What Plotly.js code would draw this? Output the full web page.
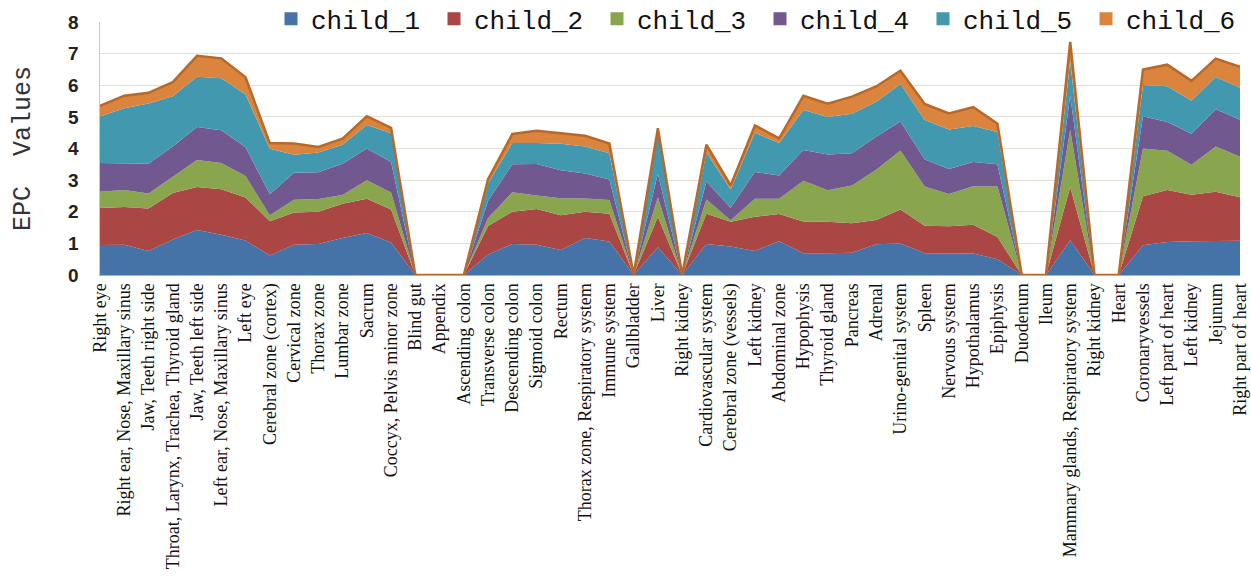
<!DOCTYPE html>
<html>
<head>
<meta charset="utf-8">
<script src="https://cdn.plot.ly/plotly-3.0.1.min.js"></script>
<style>html,body{margin:0;padding:0;background:#fff;}#chart{width:1251px;height:585px;}</style>
</head>
<body>
<div id="chart"></div>
<script>
const categories = ["Right eye","Right ear, Nose, Maxillary sinus","Jaw, Teeth right side","Throat, Larynx, Trachea, Thyroid gland","Jaw, Teeth left side","Left ear, Nose, Maxillary sinus","Left eye","Cerebral zone (cortex)","Cervical zone","Thorax zone","Lumbar zone","Sacrum","Coccyx, Pelvis minor zone","Blind gut","Appendix","Ascending colon","Transverse colon","Descending colon","Sigmoid colon","Rectum","Thorax zone, Respiratory system","Immune system","Gallbladder","Liver","Right kidney","Cardiovascular system","Cerebral zone (vessels)","Left kidney","Abdominal zone","Hypophysis","Thyroid gland","Pancreas","Adrenal","Urino-genital system","Spleen","Nervous system","Hypothalamus","Epiphysis","Duodenum","Ileum","Mammary glands, Respiratory system","Right kidney","Heart","Coronaryvessels","Left part of heart","Left kidney","Jejunum","Right part of heart"];

const child_1 = [0.95,0.96,0.76,1.12,1.42,1.27,1.09,0.62,0.96,0.98,1.17,1.33,1.03,0,0,0,0.65,0.98,0.96,0.79,1.17,1.06,0,0.88,0,0.98,0.90,0.76,1.07,0.69,0.69,0.70,0.97,1.00,0.69,0.69,0.68,0.50,0,0,1.10,0,0,0.94,1.04,1.07,1.08,1.08];
const child_2 = [1.17,1.19,1.34,1.47,1.36,1.44,1.36,1.08,1.02,1.02,1.08,1.08,1.04,0,0,0,0.90,1.02,1.13,1.10,0.83,0.88,0,0.96,0,0.96,0.78,1.08,0.86,1.00,0.99,0.94,0.77,1.07,0.87,0.85,0.91,0.70,0,0,1.68,0,0,1.55,1.65,1.47,1.55,1.38];
const child_3 = [0.51,0.54,0.48,0.51,0.86,0.83,0.68,0.19,0.40,0.40,0.28,0.59,0.54,0,0,0,0.25,0.62,0.42,0.54,0.42,0.43,0,0.62,0,0.45,0.05,0.57,0.48,1.29,1.00,1.19,1.59,1.87,1.24,1.02,1.22,1.60,0,0,1.81,0,0,1.51,1.24,0.95,1.43,1.28];
const child_4 = [0.91,0.85,0.94,0.96,1.04,1.04,0.91,0.66,0.85,0.85,0.99,1.00,0.96,0,0,0,0.55,0.88,1.00,0.88,0.79,0.65,0,0.74,0,0.57,0.40,0.85,0.74,0.97,1.13,1.02,1.04,0.91,0.85,0.79,0.76,0.70,0,0,1.08,0,0,1.02,0.91,0.98,1.18,1.17];
const child_5 = [1.47,1.73,1.90,1.59,1.59,1.64,1.67,1.44,0.57,0.62,0.60,0.74,0.91,0,0,0,0.55,0.67,0.66,0.84,0.85,0.83,0,1.30,0,0.91,0.57,1.24,1.02,1.27,1.19,1.25,1.11,1.19,1.25,1.25,1.14,1.02,0,0,1.08,0,0,0.99,1.13,1.04,1.02,1.01];
const child_6 = [0.34,0.40,0.34,0.45,0.66,0.63,0.54,0.18,0.36,0.18,0.19,0.28,0.17,0,0,0,0.13,0.29,0.39,0.32,0.34,0.31,0,0.14,0,0.25,0.13,0.23,0.15,0.45,0.42,0.54,0.48,0.42,0.51,0.51,0.60,0.26,0,0,0.62,0,0,0.49,0.68,0.63,0.58,0.66];

const seriesNames = ["child_1","child_2","child_3","child_4","child_5","child_6"];
const seriesValues = [child_1, child_2, child_3, child_4, child_5, child_6];
const colors = ["#4572A7","#AA4643","#89A54E","#71588F","#4198AF","#DB843D"];

const xIdx = categories.map((_, i) => i);

const areaTraces = seriesNames.map((name, k) => ({
  type: "scatter",
  mode: "lines",
  name: name,
  legendgroup: name,
  showlegend: false,
  x: xIdx,
  y: seriesValues[k],
  stackgroup: "one",
  fillcolor: colors[k],
  line: k === 5 ? {color: "#B8682A", width: 2.5} : {color: colors[k], width: 0},
  hoverinfo: "skip"
}));

// legend swatches (square markers, no data drawn)
const legendTraces = seriesNames.map((name, k) => ({
  type: "scatter",
  mode: "markers",
  name: name,
  legendgroup: name,
  showlegend: true,
  x: [null],
  y: [null],
  marker: {symbol: "square", size: 13, color: colors[k]},
  hoverinfo: "skip"
}));

const layout = {
  width: 1251,
  height: 585,
  margin: {l: 100, r: 11, t: 22, b: 310, autoexpand: false},
  paper_bgcolor: "#ffffff",
  plot_bgcolor: "#ffffff",
  showlegend: true,
  legend: {
    orientation: "h",
    x: 0.15, xanchor: "left",
    y: 1.105, yanchor: "top",
    font: {family: "Liberation Mono, Courier New, monospace", size: 26, color: "#111"},
    bgcolor: "rgba(255,255,255,0)",
    itemwidth: 30,
    entrywidth: 118,
    entrywidthmode: "pixels",
    traceorder: "normal"
  },
  xaxis: {
    range: [0, 47],
    tickmode: "array",
    tickvals: xIdx,
    ticktext: categories,
    tickangle: -90,
    tickfont: {family: "Liberation Serif, Times New Roman, serif", size: 18, color: "#111"},
    showgrid: false,
    zeroline: false,
    showline: true,
    linecolor: "#b0b0b0",
    linewidth: 1,
    ticks: "",
    fixedrange: true
  },
  yaxis: {
    range: [0, 8],
    dtick: 1,
    tick0: 0,
    showgrid: true,
    gridcolor: "#e3dfd4",
    gridwidth: 1,
    zeroline: false,
    showline: true,
    linecolor: "#c8c8c8",
    linewidth: 1.5,
    ticks: "",
    ticklabelstandoff: 16,
    tickfont: {family: "Liberation Sans, Arial, sans-serif", size: 19, weight: "bold", color: "#222"},
    title: {
      text: "EPC\u00a0\u00a0Values\u00a0\u00a0\u00a0\u00a0",
      font: {family: "Liberation Mono, Courier New, monospace", size: 25, color: "#333"},
      standoff: 30
    },
    fixedrange: true
  }
};

Plotly.newPlot("chart", areaTraces.concat(legendTraces), layout, {displayModeBar: false, staticPlot: true});
</script>
</body>
</html>
